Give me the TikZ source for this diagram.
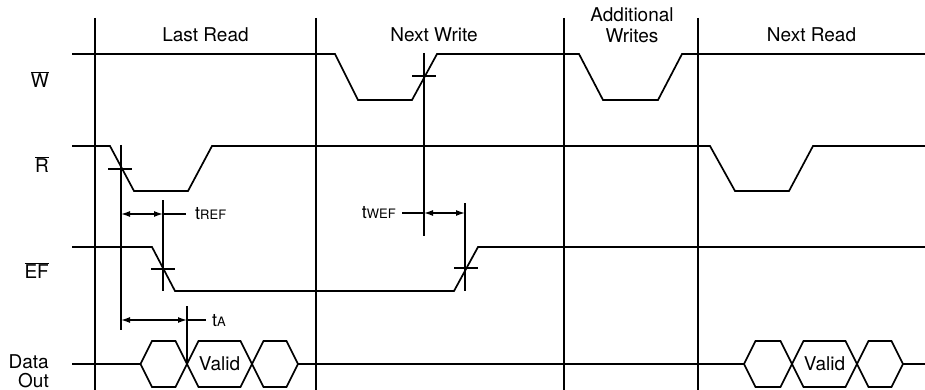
\documentclass[tikz,border=0pt]{standalone}
\usepackage{fontspec}
\setmainfont{TeX Gyre Heros}
\usetikzlibrary{arrows.meta}
\newcommand{\ovl}[1]{$\overline{\mbox{#1}}$}
\newcommand{\tsub}[1]{t{\fontsize{13}{13}\selectfont #1}}
\begin{document}
\begin{tikzpicture}[x=1pt,y=-1pt,
  sig/.style={line width=1.7pt, line join=miter},
  divider/.style={line width=1.7pt},
  tickmark/.style={line width=1.4pt},
  dimline/.style={line width=1.4pt, {Latex[length=9pt,width=6pt]}-{Latex[length=9pt,width=6pt]}},
  plain/.style={line width=1.4pt},
  lab/.style={font=\fontsize{19}{21}\selectfont, inner sep=0pt},
  sublab/.style={font=\fontsize{18}{20}\selectfont, inner sep=0pt}]
\useasboundingbox (0,0) rectangle (925,390);

% section dividers
\foreach \x/\n in {95/a,316/b,564/c,698/d}{
  \coordinate (top\n) at (\x,18);
  \coordinate (bot\n) at (\x,390);
  \draw[divider] (top\n) -- (bot\n);
}

% section titles
\node[lab] (tLast) at (205.5,35) {Last Read};
\node[lab] (tNextW) at (434,35) {Next Write};
\node[lab, align=center] (tAdd) at (632,25) {Additional\\Writes};
\node[lab] (tNextR) at (811.5,35) {Next Read};

% signal names
\node[lab, anchor=east] (nW) at (49,80) {\ovl{W}};
\node[lab, anchor=east] (nR) at (49,165) {\ovl{R}};
\node[lab, anchor=east] (nEF) at (49,271) {\ovl{EF}};
\node[lab, anchor=east, align=right, font=\fontsize{19}{19.5}\selectfont] (nD) at (49,371) {Data\\Out};

% W signal
\draw[sig] (72,54) -- (335,54) -- (358,100) -- (412,100) -- (437,54) -- (579,54)
  -- (603,100) -- (658,100) -- (682,54) -- (925,54);
% R signal
\draw[sig] (72,146) -- (110,146) -- (134,191) -- (188,191) -- (212,146) -- (710,146)
  -- (735,191) -- (789,191) -- (813,146) -- (925,146);
% EF signal
\draw[sig] (72,247) -- (152,247) -- (175,291) -- (454,291) -- (478,247) -- (925,247);

% Data out
\draw[sig] (72,364) -- (140.5,364);
\draw[sig] (298,364) -- (744,364);
\draw[sig] (903,364) -- (925,364);
\foreach \a/\b in {140.5/187,187/252,252/298,744/792,792/857,857/903}{
  \draw[sig] (\a,364) -- (\a+11.5,341) -- (\b-11.5,341) -- (\b,364)
    -- (\b-11.5,387) -- (\a+11.5,387) -- cycle;
}
\node[lab] (v1) at (219.5,364) {Valid};
\node[lab] (v2) at (824.5,364) {Valid};

% timing reference points
\coordinate (rA) at (121,145);   \coordinate (rB) at (121,330);
\coordinate (efA) at (163,200);  \coordinate (efB) at (163,291);
\coordinate (wA) at (424,53);    \coordinate (wB) at (424,236);
\coordinate (efC) at (465,203);  \coordinate (efD) at (465,291);
\coordinate (dA) at (187,306);   \coordinate (dB) at (187,364);
\draw[tickmark] (rA) -- (rB);
\draw[tickmark] (efA) -- (efB);
\draw[tickmark] (wA) -- (wB);
\draw[tickmark] (efC) -- (efD);
\draw[tickmark] (dA) -- (dB);
% crossing ticks
\draw[tickmark] (108,169) -- (132,169);
\draw[tickmark] (412,76) -- (436,76);
\draw[tickmark] (151,269) -- (175,269);
\draw[tickmark] (454,268) -- (478,268);

% tREF
\coordinate (ref1) at (121,214); \coordinate (ref2) at (163,214); \coordinate (ref3) at (186,214);
\draw[dimline] (ref1) -- (ref2);
\draw[plain] (ref2) -- (ref3);
\node[sublab, anchor=west] (lREF) at (195,214) {\tsub{REF}};
% tWEF
\coordinate (wef1) at (424,213); \coordinate (wef2) at (465,213); \coordinate (wef0) at (402,213);
\draw[dimline] (wef1) -- (wef2);
\draw[plain] (wef0) -- (wef1);
\node[sublab, anchor=east] (lWEF) at (396,213) {\tsub{WEF}};
% tA
\coordinate (ta1) at (121,320); \coordinate (ta2) at (187,320); \coordinate (ta3) at (206,320);
\draw[dimline] (ta1) -- (ta2);
\draw[plain] (ta2) -- (ta3);
\node[sublab, anchor=west] (lA) at (212,321) {\tsub{A}};
\end{tikzpicture}
\end{document}
